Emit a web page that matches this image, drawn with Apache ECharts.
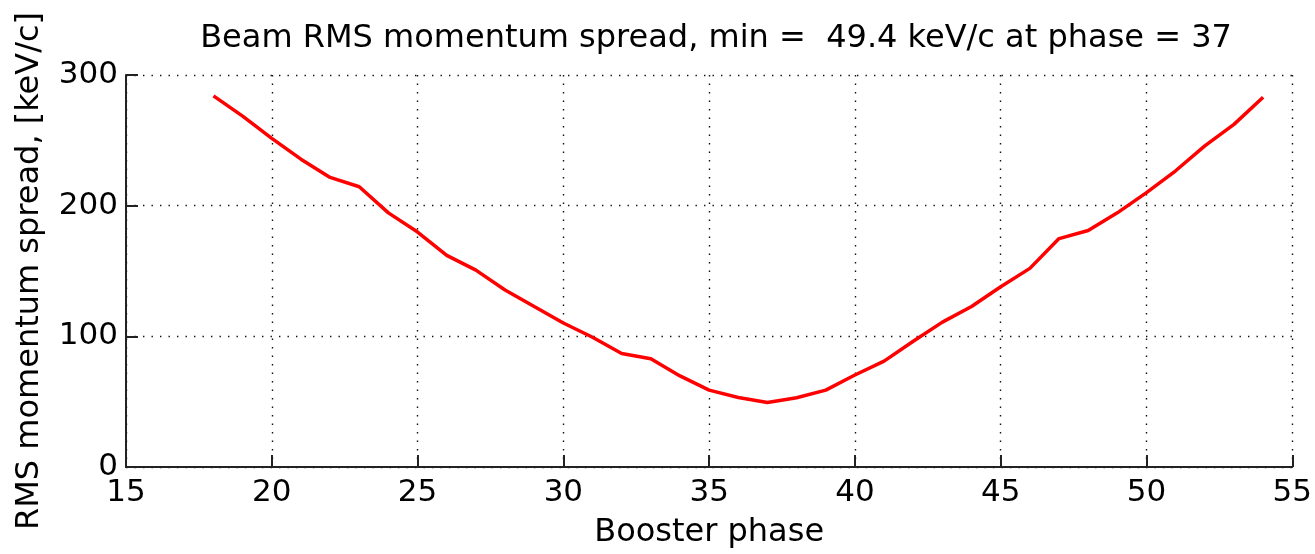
<!DOCTYPE html>
<html>
<head>
<meta charset="utf-8">
<script src="https://cdn.jsdelivr.net/npm/echarts@6/dist/echarts.min.js"></script>
<style>
html,body{margin:0;padding:0;background:#fff;}
#chart{width:1315px;height:554px;}
</style>
</head>
<body>
<div id="chart"></div>
<script>
const titleText = 'Beam RMS momentum spread, min =  49.4 keV/c at phase = 37';
const xAxisName = 'Booster phase';
const yAxisName = 'RMS momentum spread, [keV/c]';
const phases = [18,19,20,21,22,23,24,25,26,27,28,29,30,31,32,33,34,35,36,37,38,39,40,41,42,43,44,45,46,47,48,49,50,51,52,53,54];
const spread = [284,268.5,251.5,235.6,221.6,214.5,194.5,179.8,162,150.7,135.5,122.8,110.2,99.3,86.9,82.8,69.7,58.8,53.2,49.4,53,58.8,70.4,81,96.2,110.9,122.8,138,152,174.8,181,194.5,210,226.7,245.7,262.2,283];
const xTicks = [15,20,25,30,35,40,45,50,55];
const yTicks = [0,100,200,300];

const FONT = 'DejaVu Sans';
const chart = echarts.init(document.getElementById('chart'), null, {renderer:'canvas'});
const gridStyle = {color:'#111', width:1.4, type:[1.4,7.1]};
chart.setOption({
  animation:false,
  backgroundColor:'#fff',
  title:{
    text:titleText,
    left:711, textAlign:'center', top:18,
    textStyle:{fontFamily:FONT, fontSize:32, fontWeight:'normal', color:'#000'}
  },
  grid:{left:126, right:19, top:75, bottom:84, containLabel:false},
  xAxis:{
    type:'value', min:xTicks[0], max:xTicks[xTicks.length-1], interval:5,
    name:xAxisName, nameLocation:'middle', nameGap:50,
    nameTextStyle:{fontFamily:FONT, fontSize:32, color:'#000'},
    axisLine:{show:true, onZero:false, lineStyle:{color:'#222', width:2}},
    axisTick:{show:true, inside:true, length:12, lineStyle:{color:'#222', width:2}},
    axisLabel:{fontFamily:FONT, fontSize:31, color:'#000', margin:10, showMinLabel:true, showMaxLabel:true},
    splitLine:{show:true, lineStyle:gridStyle}
  },
  yAxis:{
    type:'value', min:yTicks[0], max:yTicks[yTicks.length-1], interval:100,
    name:yAxisName, nameLocation:'middle', nameGap:80, nameRotate:90,
    nameTextStyle:{fontFamily:FONT, fontSize:32, color:'#000'},
    axisLine:{show:true, lineStyle:{color:'#222', width:2}},
    axisTick:{show:true, inside:true, length:12, lineStyle:{color:'#222', width:2}},
    axisLabel:{fontFamily:FONT, fontSize:31, color:'#000', margin:8, showMinLabel:true, showMaxLabel:true},
    splitLine:{show:true, lineStyle:gridStyle}
  },
  series:[{
    type:'line',
    data:phases.map((p,i)=>[p, spread[i]]),
    showSymbol:false, symbol:'none',
    lineStyle:{color:'#ff0000', width:3.5},
    itemStyle:{color:'#ff0000'},
    smooth:false
  }]
});
</script>
</body>
</html>
